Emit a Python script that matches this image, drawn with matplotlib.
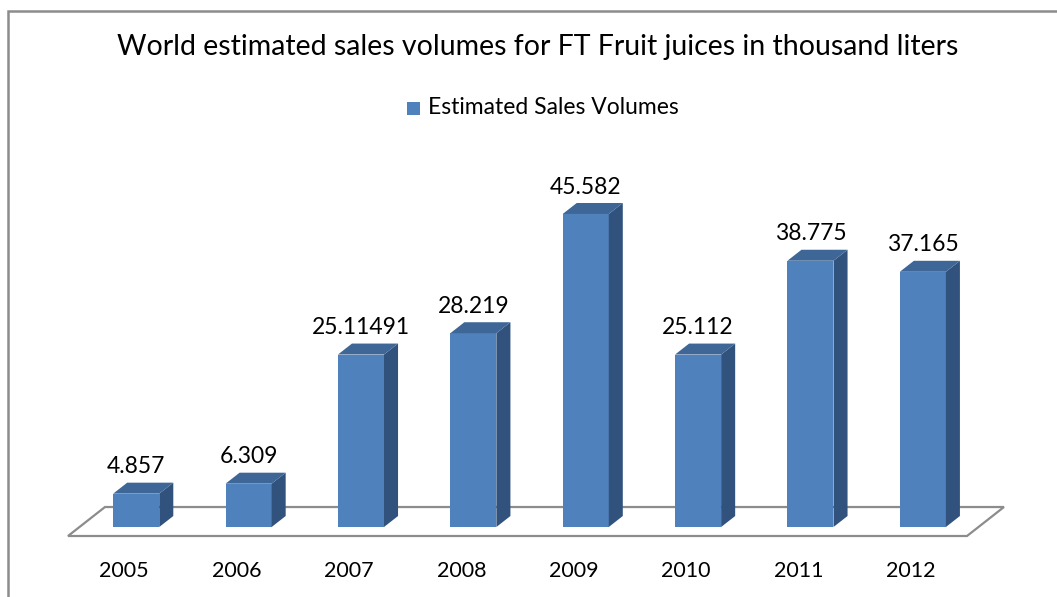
import matplotlib
matplotlib.use("Agg")
import matplotlib.pyplot as plt
from matplotlib.patches import Polygon, Rectangle

# data
years = ['2005', '2006', '2007', '2008', '2009', '2010', '2011', '2012']
sales = [4.857, 6.309, 25.11491, 28.219, 45.582, 25.112, 38.775, 37.165]
sales_labels = ['4.857', '6.309', '25.11491', '28.219', '45.582', '25.112', '38.775', '37.165']

front_c = '#4F81BD'
top_c = '#3E6798'
side_c = '#30527D'
grey = '#8C8C8C'

plt.rcParams['font.family'] = ['Lato', 'DejaVu Sans']

W, H = 1057, 597
fig = plt.figure(figsize=(W / 100, H / 100), dpi=100)

# axes: front floor edge at y=536px, top at 150px; x from 68 to 967px
ax = fig.add_axes([68 / W, (H - 536) / H, (967 - 68) / W, (536 - 150) / H])
ax.set_xlim(-0.5, len(years) - 0.5)
ax.set_ylim(-1.31, 54.9)
ax.axis('off')

# pseudo-3d offsets in data units
bar_shift = 0.107   # bars sit back from the front floor edge
bar_w = 0.41
depth_x, depth_y = 0.125, 1.6
floor_dx, floor_dy = 0.329, 4.22

# floor
y0 = -1.31
floor = Polygon([(-0.5, y0), (len(years) - 0.5, y0),
                 (len(years) - 0.5 + floor_dx, y0 + floor_dy),
                 (-0.5 + floor_dx, y0 + floor_dy)],
                closed=True, facecolor='none', edgecolor=grey, lw=1.6, clip_on=False)
ax.add_patch(floor)

xs = [i + bar_shift for i in range(len(years))]
ax.bar(xs, sales, width=bar_w, color=front_c, zorder=3)
for x, v, lab in zip(xs, sales, sales_labels):
    l, r = x - bar_w / 2, x + bar_w / 2
    side = Polygon([(r, 0), (r + depth_x, depth_y), (r + depth_x, v + depth_y), (r, v)],
                   closed=True, facecolor=side_c, edgecolor='none', zorder=3, clip_on=False)
    top = Polygon([(l, v), (r, v), (r + depth_x, v + depth_y), (l + depth_x, v + depth_y)],
                  closed=True, facecolor=top_c, edgecolor='none', zorder=3, clip_on=False)
    ax.add_patch(side)
    ax.add_patch(top)
    ax.text(x, v + depth_y + 0.8, lab, ha='center', va='bottom', fontsize=16.5, zorder=4)

for i, yr in enumerate(years):
    ax.text(i, y0 - 3.6, yr, ha='center', va='top', fontsize=15.5)

# title and legend
fig.text(538 / W, 1 - 47 / H, 'World estimated sales volumes for FT Fruit juices in thousand liters',
         ha='center', va='center', fontsize=20.5)
fig.add_artist(Rectangle((407 / W, 1 - 115 / H), 13 / W, 13 / H, transform=fig.transFigure,
                         facecolor=front_c, edgecolor='none'))
fig.text(428 / W, 1 - 108 / H, 'Estimated Sales Volumes', ha='left', va='center', fontsize=16.5)

# chart border (continues off the right and bottom)
fig.add_artist(Rectangle((7.5 / W, -0.1), 1.2, 1.1 - 11 / H, transform=fig.transFigure,
                         facecolor='none', edgecolor=grey, lw=1.8))

fig.savefig('out.png', dpi=100)
